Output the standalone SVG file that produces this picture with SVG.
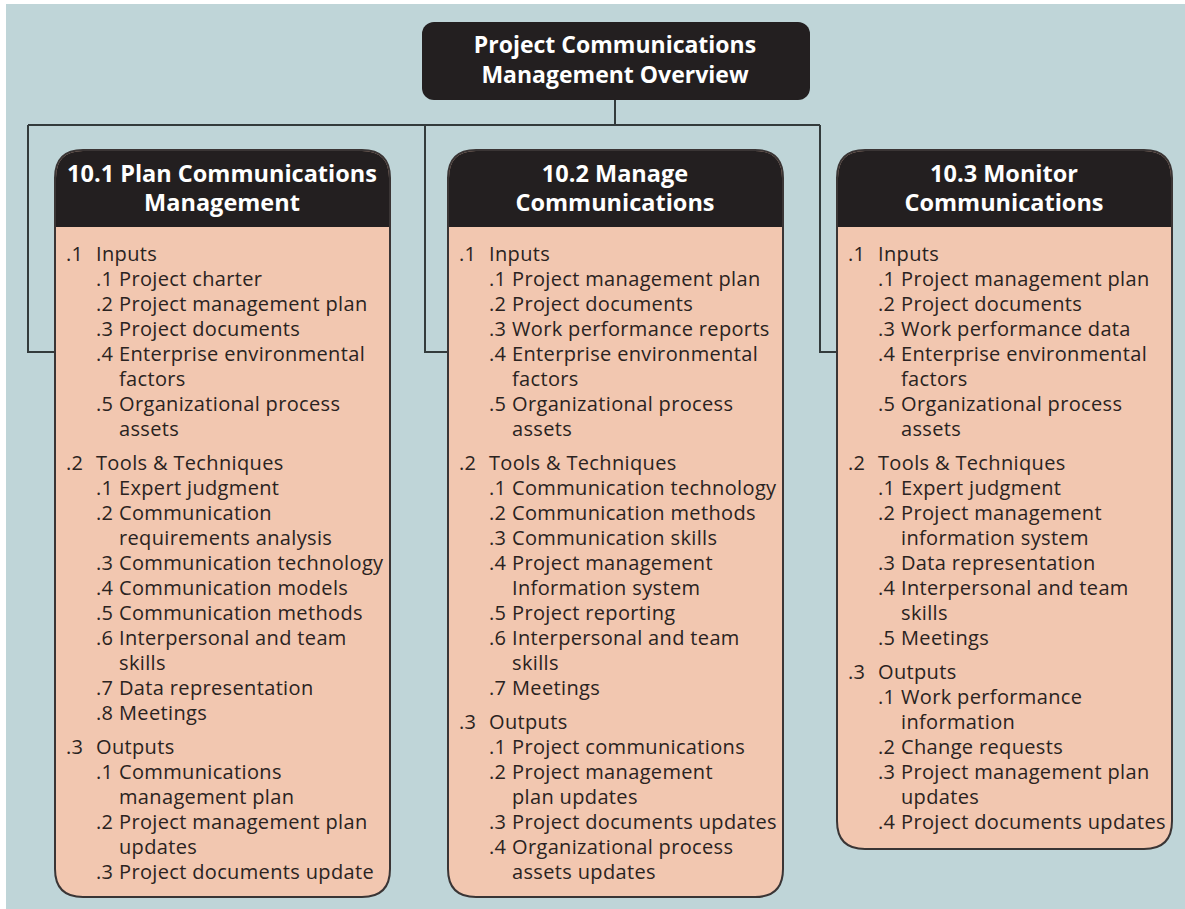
<svg xmlns="http://www.w3.org/2000/svg" width="1185" height="909" viewBox="0 0 1185 909">
<style>
.bg{fill:#bfd5d8}
.body{fill:#f2c7b0;stroke:#3a3535;stroke-width:2}
.head{fill:#231f20}
.title{fill:#231f20}
.ht{font-family:"Open Sans","Liberation Sans",sans-serif;font-weight:bold;font-size:23.5px;fill:#ffffff;text-anchor:middle}
.tt{font-size:23px}
.t{font-family:"Open Sans","Liberation Sans",sans-serif;font-size:20px;font-weight:500;letter-spacing:0.35px;fill:#2a2321}
.conn{fill:none;stroke:#333b3c;stroke-width:2}
</style>
<rect x="0" y="0" width="1185" height="909" fill="#ffffff"/>
<rect class="bg" x="6" y="4" width="1179" height="905"/>

<g id="connectors">
<path class="conn" d="M615,99 V125 M28,125 H820 M28,125 V352 H55 M425,125 V352 H448 M820,125 V352 H837"/>
</g>

<g id="title">
<rect class="title" x="422" y="22" width="388" height="78" rx="12"/>
<text class="ht tt" x="615" y="53">Project Communications</text>
<text class="ht tt" x="615" y="83">Management Overview</text>
</g>

<g id="plan">
<path class="body" d="M55,178 Q55,150 83,150 H362 Q390,150 390,178 V869 Q390,897 362,897 H83 Q55,897 55,869 Z"/>
<path class="head" d="M56,227 V178 Q56,151 83,151 H362 Q389,151 389,178 V227 Z"/>
<text class="ht" x="222" y="182">10.1 Plan Communications</text>
<text class="ht" x="222" y="211">Management</text>
<text class="t" x="66" y="261">.1</text><text class="t" x="96" y="261">Inputs</text>
<text class="t" x="96" y="286">.1</text><text class="t" x="119" y="286">Project charter</text>
<text class="t" x="96" y="311">.2</text><text class="t" x="119" y="311">Project management plan</text>
<text class="t" x="96" y="336">.3</text><text class="t" x="119" y="336">Project documents</text>
<text class="t" x="96" y="361">.4</text><text class="t" x="119" y="361">Enterprise environmental</text>
<text class="t" x="119" y="386">factors</text>
<text class="t" x="96" y="411">.5</text><text class="t" x="119" y="411">Organizational process</text>
<text class="t" x="119" y="436">assets</text>
<text class="t" x="66" y="470">.2</text><text class="t" x="96" y="470">Tools &amp; Techniques</text>
<text class="t" x="96" y="495">.1</text><text class="t" x="119" y="495">Expert judgment</text>
<text class="t" x="96" y="520">.2</text><text class="t" x="119" y="520">Communication</text>
<text class="t" x="119" y="545">requirements analysis</text>
<text class="t" x="96" y="570">.3</text><text class="t" x="119" y="570">Communication technology</text>
<text class="t" x="96" y="595">.4</text><text class="t" x="119" y="595">Communication models</text>
<text class="t" x="96" y="620">.5</text><text class="t" x="119" y="620">Communication methods</text>
<text class="t" x="96" y="645">.6</text><text class="t" x="119" y="645">Interpersonal and team</text>
<text class="t" x="119" y="670">skills</text>
<text class="t" x="96" y="695">.7</text><text class="t" x="119" y="695">Data representation</text>
<text class="t" x="96" y="720">.8</text><text class="t" x="119" y="720">Meetings</text>
<text class="t" x="66" y="754">.3</text><text class="t" x="96" y="754">Outputs</text>
<text class="t" x="96" y="779">.1</text><text class="t" x="119" y="779">Communications</text>
<text class="t" x="119" y="804">management plan</text>
<text class="t" x="96" y="829">.2</text><text class="t" x="119" y="829">Project management plan</text>
<text class="t" x="119" y="854">updates</text>
<text class="t" x="96" y="879">.3</text><text class="t" x="119" y="879">Project documents update</text>
</g>

<g id="manage">
<path class="body" d="M448,178 Q448,150 476,150 H755 Q783,150 783,178 V869 Q783,897 755,897 H476 Q448,897 448,869 Z"/>
<path class="head" d="M449,227 V178 Q449,151 476,151 H755 Q782,151 782,178 V227 Z"/>
<text class="ht" x="615" y="182">10.2 Manage</text>
<text class="ht" x="615" y="211">Communications</text>
<text class="t" x="459" y="261">.1</text><text class="t" x="489" y="261">Inputs</text>
<text class="t" x="489" y="286">.1</text><text class="t" x="512" y="286">Project management plan</text>
<text class="t" x="489" y="311">.2</text><text class="t" x="512" y="311">Project documents</text>
<text class="t" x="489" y="336">.3</text><text class="t" x="512" y="336">Work performance reports</text>
<text class="t" x="489" y="361">.4</text><text class="t" x="512" y="361">Enterprise environmental</text>
<text class="t" x="512" y="386">factors</text>
<text class="t" x="489" y="411">.5</text><text class="t" x="512" y="411">Organizational process</text>
<text class="t" x="512" y="436">assets</text>
<text class="t" x="459" y="470">.2</text><text class="t" x="489" y="470">Tools &amp; Techniques</text>
<text class="t" x="489" y="495">.1</text><text class="t" x="512" y="495">Communication technology</text>
<text class="t" x="489" y="520">.2</text><text class="t" x="512" y="520">Communication methods</text>
<text class="t" x="489" y="545">.3</text><text class="t" x="512" y="545">Communication skills</text>
<text class="t" x="489" y="570">.4</text><text class="t" x="512" y="570">Project management</text>
<text class="t" x="512" y="595">Information system</text>
<text class="t" x="489" y="620">.5</text><text class="t" x="512" y="620">Project reporting</text>
<text class="t" x="489" y="645">.6</text><text class="t" x="512" y="645">Interpersonal and team</text>
<text class="t" x="512" y="670">skills</text>
<text class="t" x="489" y="695">.7</text><text class="t" x="512" y="695">Meetings</text>
<text class="t" x="459" y="729">.3</text><text class="t" x="489" y="729">Outputs</text>
<text class="t" x="489" y="754">.1</text><text class="t" x="512" y="754">Project communications</text>
<text class="t" x="489" y="779">.2</text><text class="t" x="512" y="779">Project management</text>
<text class="t" x="512" y="804">plan updates</text>
<text class="t" x="489" y="829">.3</text><text class="t" x="512" y="829">Project documents updates</text>
<text class="t" x="489" y="854">.4</text><text class="t" x="512" y="854">Organizational process</text>
<text class="t" x="512" y="879">assets updates</text>
</g>

<g id="monitor">
<path class="body" d="M837,178 Q837,150 865,150 H1144 Q1172,150 1172,178 V821 Q1172,849 1144,849 H865 Q837,849 837,821 Z"/>
<path class="head" d="M838,227 V178 Q838,151 865,151 H1144 Q1171,151 1171,178 V227 Z"/>
<text class="ht" x="1004" y="182">10.3 Monitor</text>
<text class="ht" x="1004" y="211">Communications</text>
<text class="t" x="848" y="261">.1</text><text class="t" x="878" y="261">Inputs</text>
<text class="t" x="878" y="286">.1</text><text class="t" x="901" y="286">Project management plan</text>
<text class="t" x="878" y="311">.2</text><text class="t" x="901" y="311">Project documents</text>
<text class="t" x="878" y="336">.3</text><text class="t" x="901" y="336">Work performance data</text>
<text class="t" x="878" y="361">.4</text><text class="t" x="901" y="361">Enterprise environmental</text>
<text class="t" x="901" y="386">factors</text>
<text class="t" x="878" y="411">.5</text><text class="t" x="901" y="411">Organizational process</text>
<text class="t" x="901" y="436">assets</text>
<text class="t" x="848" y="470">.2</text><text class="t" x="878" y="470">Tools &amp; Techniques</text>
<text class="t" x="878" y="495">.1</text><text class="t" x="901" y="495">Expert judgment</text>
<text class="t" x="878" y="520">.2</text><text class="t" x="901" y="520">Project management</text>
<text class="t" x="901" y="545">information system</text>
<text class="t" x="878" y="570">.3</text><text class="t" x="901" y="570">Data representation</text>
<text class="t" x="878" y="595">.4</text><text class="t" x="901" y="595">Interpersonal and team</text>
<text class="t" x="901" y="620">skills</text>
<text class="t" x="878" y="645">.5</text><text class="t" x="901" y="645">Meetings</text>
<text class="t" x="848" y="679">.3</text><text class="t" x="878" y="679">Outputs</text>
<text class="t" x="878" y="704">.1</text><text class="t" x="901" y="704">Work performance</text>
<text class="t" x="901" y="729">information</text>
<text class="t" x="878" y="754">.2</text><text class="t" x="901" y="754">Change requests</text>
<text class="t" x="878" y="779">.3</text><text class="t" x="901" y="779">Project management plan</text>
<text class="t" x="901" y="804">updates</text>
<text class="t" x="878" y="829">.4</text><text class="t" x="901" y="829">Project documents updates</text>
</g>
</svg>
